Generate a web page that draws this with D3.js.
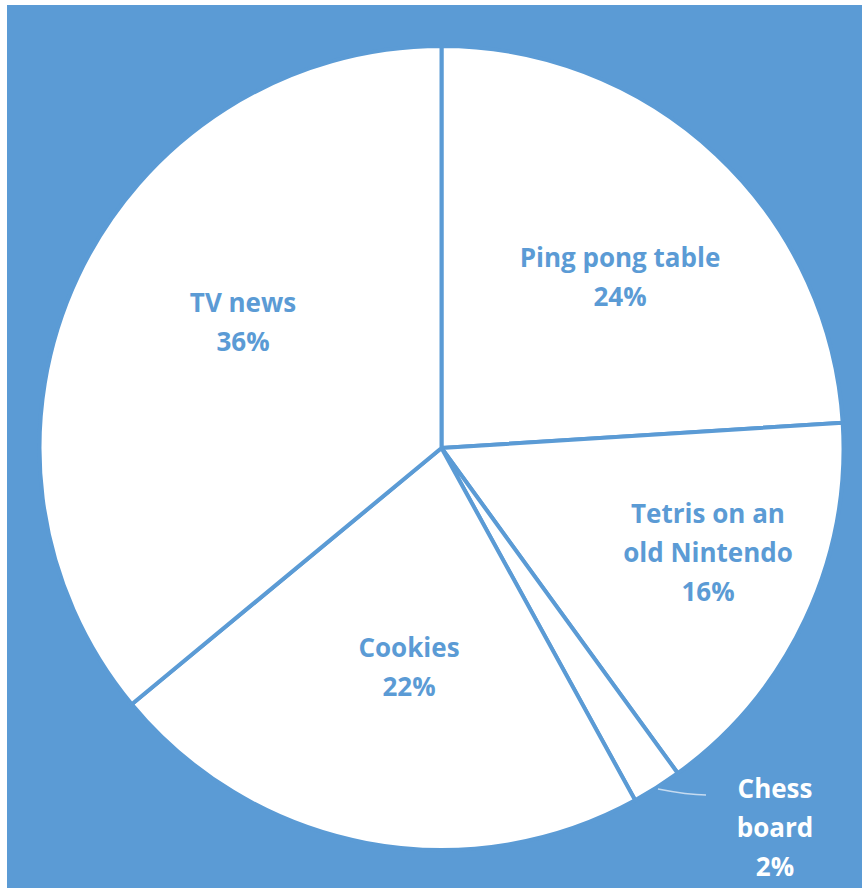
<!DOCTYPE html>
<html>
<head>
<meta charset="utf-8">
<script src="https://cdn.jsdelivr.net/npm/d3@7"></script>
<style>
  html, body { margin: 0; padding: 0; background: #ffffff; }
  svg { display: block; }
</style>
</head>
<body>
<svg id="chart" width="862" height="888"></svg>
<script>
// Slice data, clockwise from 12 o'clock
const categories = ["Ping pong table", "Tetris on an old Nintendo", "Chess board", "Cookies", "TV news"];
const values = [24, 16, 2, 22, 36];
// Label lines per slice (category text wrapped, then percentage)
const labelLines = [
  ["Ping pong table"],
  ["Tetris on an", "old Nintendo"],
  ["Chess", "board"],
  ["Cookies"],
  ["TV news"]
];

const W = 862, H = 888;
const blue = "#5B9BD5";
const svg = d3.select("#chart");

// Chart area background
svg.append("rect")
  .attr("x", 7).attr("y", 5)
  .attr("width", W - 7).attr("height", H - 5)
  .attr("fill", blue);

const cx = 441.5, cy = 448, R = 402;
const g = svg.append("g").attr("transform", `translate(${cx},${cy})`);

const data = categories.map((c, i) => ({ name: c, value: values[i], lines: labelLines[i] }));
const pie = d3.pie().value(d => d.value).sort(null);
const arcs = pie(data);
const arc = d3.arc().innerRadius(0).outerRadius(R);

g.selectAll("path.slice")
  .data(arcs)
  .join("path")
  .attr("class", "slice")
  .attr("d", arc)
  .attr("fill", "#ffffff")
  .attr("stroke", blue)
  .attr("stroke-width", 4)
  .attr("stroke-linejoin", "round");

// Label block centres (page coordinates)
const fs = 26, lh = 39;
const labelPos = [[620, 277.5], [708, 553], [775, 828], [409, 667.5], [243, 322]];

arcs.forEach((a, i) => {
  const d = a.data;
  const mid = (a.startAngle + a.endAngle) / 2;
  const pct = Math.round(a.value / d3.sum(values) * 100) + "%";
  const lines = d.lines.concat([pct]);
  const x = labelPos[i][0] - cx, y = labelPos[i][1] - cy;
  let color = blue;
  if (i === 2) {
    // Outside label with leader line
    color = "#ffffff";
    const p0 = [(R + 2) * Math.sin(mid), -(R + 2) * Math.cos(mid)];
    const lineEnd = [706 - cx, 795 - cy];
    g.append("path")
      .attr("d", `M${p0[0]},${p0[1]} Q${p0[0] + 30},${lineEnd[1]} ${lineEnd[0]},${lineEnd[1]}`)
      .attr("fill", "none")
      .attr("stroke", "#c6dbf0")
      .attr("stroke-width", 1.5);
  }
  const t = g.append("text")
    .attr("text-anchor", "middle")
    .attr("font-family", "'Open Sans', Lato, sans-serif")
    .attr("font-weight", 700)
    .attr("font-size", fs)
    .attr("fill", color);
  const y0 = y - (lines.length - 1) * lh / 2;
  lines.forEach((ln, k) => {
    t.append("tspan")
      .attr("x", x)
      .attr("y", y0 + k * lh)
      .attr("dy", "0.36em")
      .text(ln);
  });
});
</script>
</body>
</html>
